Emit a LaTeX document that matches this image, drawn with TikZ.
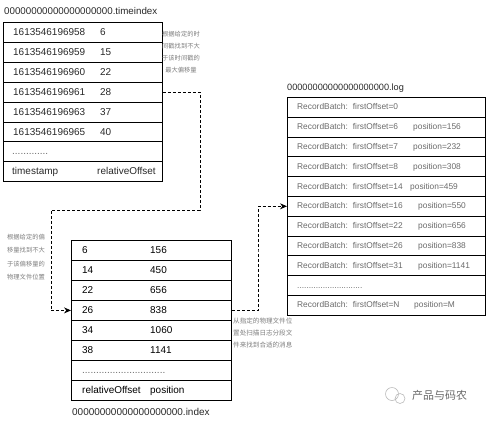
\documentclass[tikz,border=0pt]{standalone}
\usepackage{fontspec}
\setmainfont{Liberation Sans}
\newfontfamily\cjk{Noto Sans CJK SC}
\usetikzlibrary{arrows.meta}
\usetikzlibrary{positioning}
\definecolor{inkgray}{RGB}{40,40,40}
\definecolor{softgray}{RGB}{105,105,105}
\definecolor{notegray}{RGB}{125,125,125}
\definecolor{markgray}{RGB}{185,185,185}
\tikzset{
  rowbox/.style={draw=black,line width=0.8bp,inner sep=0pt,anchor=north west,
    minimum height=#1},
  cell/.style={anchor=west,inner sep=0pt,text height=7.2bp,text depth=0pt,
    font=\fontsize{10}{12}\selectfont,text=inkgray},
  logcell/.style={anchor=west,inner sep=0pt,text height=6.1bp,text depth=0pt,
    font=\fontsize{8.4}{10}\selectfont,text=softgray},
  title/.style={anchor=west,inner sep=0pt,text=inkgray},
  note/.style={inner sep=0pt,text=notegray},
  jump/.style={line width=0.8bp,dash pattern=on 3bp off 2bp,
    -{Stealth[length=7bp,width=6bp]}}
}
\newcommand\batch[1]{RecordBatch:\hspace{5bp}firstOffset=#1}
\begin{document}
\begin{tikzpicture}[x=1bp,y=-1bp]
    \useasboundingbox (0,0) rectangle (487,421);
    % timeindex file
    \node[title,font=\fontsize{9.8}{12}\selectfont] (tititle) at (4,11)
      {00000000000000000000.timeindex};
    \foreach \ts/\off [count=\i] in {1613546196958/6, 1613546196959/15,
        1613546196960/22, 1613546196961/28, 1613546196963/37, 1613546196965/40}{
      \node[rowbox=19.9bp,minimum width=159bp] (ti\i) at (3,{22+(\i-1)*19.9}) {};
      \node[cell] (ts\i) at (13,{22+(\i-0.5)*19.9}) {\ts};
      \node[cell] (to\i) at (100,{22+(\i-0.5)*19.9}) {\off};}
    \node[rowbox=19.9bp,minimum width=159bp] (ti7) at (3,{22+6*19.9}) {};
    \node[cell,text=softgray] (tidots) at (12,{22+6.5*19.9}) {.............};
    \node[rowbox=19.9bp,minimum width=159bp] (ti8) at (3,{22+7*19.9}) {};
    \node[cell] (tihead) at (12,{22+7.5*19.9}) {timestamp};
    \node[cell] (tioff) at (97,{22+7.5*19.9}) {relativeOffset};
    \node[note,align=center,font=\cjk\fontsize{6.3}{12}\selectfont] (tinote)
      at (181,52) {根据给定的时\\间戳找到不大\\于该时间戳的\\最大偏移量};
    % index file
    \foreach \off/\pos [count=\i] in {6/156, 14/450, 22/656, 26/838, 34/1060, 38/1141}{
      \node[rowbox=20bp,minimum width=160bp] (ix\i) at (71,{240+(\i-1)*20}) {};
      \node[cell,text=black] (io\i) at (82,{240+(\i-0.5)*20}) {\off};
      \node[cell,text=black] (ip\i) at (150,{240+(\i-0.5)*20}) {\pos};}
    \node[rowbox=20bp,minimum width=160bp] (ix7) at (71,360) {};
    \node[cell,text=softgray] (ixdots) at (82,370) {..............................};
    \node[rowbox=20bp,minimum width=160bp] (ix8) at (71,380) {};
    \node[cell,text=black] (ixhead) at (82,390) {relativeOffset};
    \node[cell,text=black] (ixpos) at (150,390) {position};
    \node[title,font=\fontsize{10}{12}\selectfont] (ixtitle) at (72,412)
      {00000000000000000000.index};
    \node[note,align=center,font=\cjk\fontsize{6.3}{13.3}\selectfont] (ixnote)
      at (26,257) {根据给定的偏\\移量找到不大\\于该偏移量的\\物理文件位置};
    % log file
    \node[title,font=\fontsize{9.2}{12}\selectfont] (logtitle) at (287,88)
      {00000000000000000000.log};
    \node[rowbox=19.8bp,minimum width=198bp] (log1) at (287,97) {};
    \node[logcell] (lb1) at (297,{97+0.5*19.8}) {\batch{0}};
    \foreach \off/\pos/\px [count=\i from 2] in {6/156/413, 7/232/413, 8/308/413,
        14/459/410, 16/550/418, 22/656/418, 26/838/418, 31/1141/418}{
      \node[rowbox=19.8bp,minimum width=198bp] (log\i) at (287,{97+(\i-1)*19.8}) {};
      \node[logcell] (lb\i) at (297,{97+(\i-0.5)*19.8}) {\batch{\off}};
      \node[logcell] (lp\i) at (\px,{97+(\i-0.5)*19.8}) {position=\pos};}
    \node[rowbox=19.8bp,minimum width=198bp] (log10) at (287,{97+9*19.8}) {};
    \node[logcell] (logdots) at (297,{97+9.5*19.8}) {............................};
    \node[rowbox=19.8bp,minimum width=198bp] (log11) at (287,{97+10*19.8}) {};
    \node[logcell] (lb11) at (297,{97+10.5*19.8}) {\batch{N}};
    \node[logcell] (lp11) at (414,{97+10.5*19.8}) {position=M};
    \node[note,align=left,anchor=west,font=\cjk\fontsize{6.6}{12.5}\selectfont]
      (lognote) at (233,333) {从指定的物理文件位\\置处扫描日志分段文\\件来找到合适的消息};
    % lookups
    \coordinate (bendA) at (200,210);
    \coordinate (bendB) at (51,210);
    \coordinate (bendC) at (258,250);
    \draw[jump] (ti4.east) -| (bendA) -- (bendB) |- (ix4.west);
    \draw[jump] (ix4.east) -| (bendC) |- (log6.west);
    % mark
    \draw[markgray,line width=0.6bp] (392,394) circle (6.5) (400,398.5) circle (5);
    \node[anchor=west,inner sep=0pt,text=softgray,font=\cjk\fontsize{11}{12}\selectfont]
      (mark) at (412,395) {产品与码农};
  \end{tikzpicture}
\end{document}
